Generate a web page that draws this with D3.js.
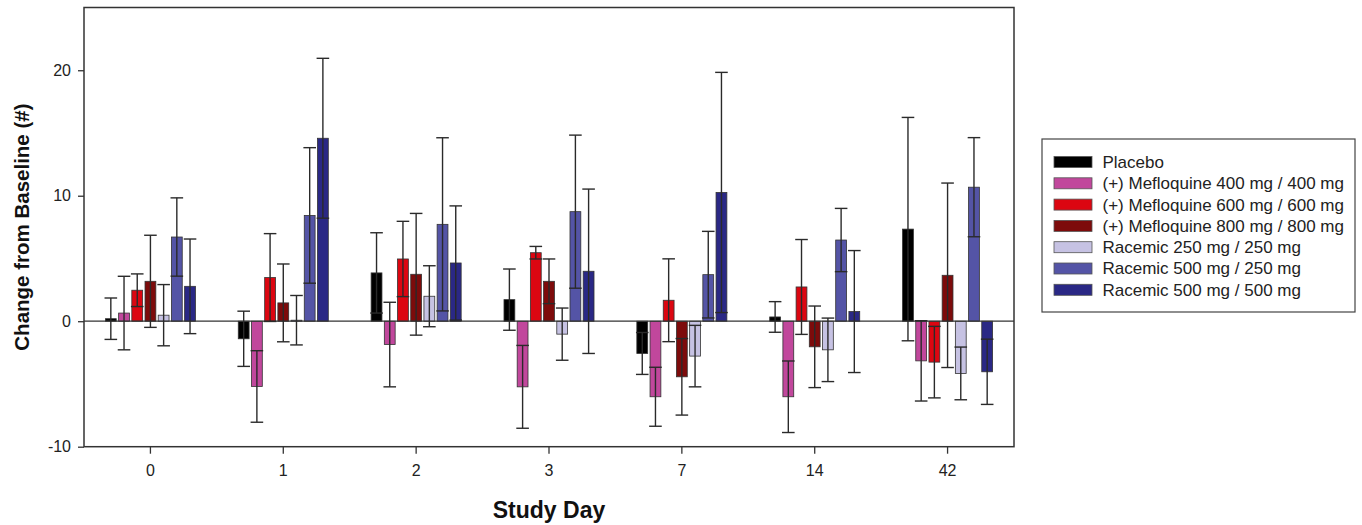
<!DOCTYPE html>
<meta charset="utf-8">
<head>
  <style>
    body { margin: 0; background: #fff; }
    svg { display: block; font-family: Arial, "Liberation Sans", sans-serif; }
    .tick text { font-size: 16px; fill: #222; }
    .axis path, .axis line { stroke: #333; }
    .legend text { font-size: 17px; fill: #222; }
  </style>
  <script src="https://cdn.jsdelivr.net/npm/d3@7"></script>
</head>
<body>
  <svg width="1362" height="525"></svg>
  <script>

    // study days on the x axis
    var days = ["0", "1", "2", "3", "7", "14", "42"];

    var groups = [
      "Placebo",
      "(+) Mefloquine 400 mg / 400 mg",
      "(+) Mefloquine 600 mg / 600 mg",
      "(+) Mefloquine 800 mg / 800 mg",
      "Racemic 250 mg / 250 mg",
      "Racemic 500 mg / 250 mg",
      "Racemic 500 mg / 500 mg"
    ];
    var colors = ["#000000", "#c1479c", "#dc0611", "#7d0b0b", "#c6c2e3", "#5454a6", "#2a2885"];

    // mean change per group, one value per day
    var placebo   = [0.2, -1.4, 3.85, 1.72, -2.57, 0.34, 7.34];
    var meflo400  = [0.65, -5.2, -1.86, -5.23, -6.02, -6.02, -3.16];
    var meflo600  = [2.47, 3.48, 4.96, 5.46, 1.67, 2.73, -3.26];
    var meflo800  = [3.18, 1.46, 3.74, 3.18, -4.43, -2.04, 3.66];
    var rac250    = [0.48, 0.08, 1.99, -1.03, -2.78, -2.28, -4.16];
    var rac500250 = [6.71, 8.43, 7.72, 8.73, 3.71, 6.47, 10.68];
    var rac500500 = [2.78, 14.58, 4.64, 3.98, 10.26, 0.77, -4.03];

    // error (+/-) per group, one value per day
    var placeboErr   = [1.65, 2.2, 3.2, 2.44, 1.67, 1.22, 8.9];
    var meflo400Err  = [2.93, 2.85, 3.37, 3.3, 2.35, 2.85, 3.2];
    var meflo600Err  = [1.3, 3.5, 3.0, 0.5, 3.3, 3.78, 2.85];
    var meflo800Err  = [3.67, 3.1, 4.85, 1.78, 3.05, 3.25, 7.35];
    var rac250Err    = [2.44, 1.97, 2.43, 2.08, 2.45, 2.53, 2.1];
    var rac500250Err = [3.12, 5.4, 6.9, 6.1, 3.45, 2.52, 3.95];
    var rac500500Err = [3.77, 6.37, 4.55, 6.55, 9.57, 4.86, 2.6];

    var yTicks = [-10, 0, 10, 20];

    var means = [placebo, meflo400, meflo600, meflo800, rac250, rac500250, rac500500];
    var errs = [placeboErr, meflo400Err, meflo600Err, meflo800Err, rac250Err, rac500250Err, rac500500Err];

    var rows = [];
    days.forEach(function(day, i) {
      groups.forEach(function(g, j) {
        rows.push({day: day, group: g, value: means[j][i], err: errs[j][i], color: colors[j]});
      });
    });

    var svg = d3.select("svg");
    var plotL = 84, plotR = 1014, plotT = 7.5, plotB = 446.7;

    var x0 = d3.scaleBand()
      .domain(days)
      .range([plotL, plotR]);

    var groupW = 92.4;
    var x1 = d3.scaleBand()
      .domain(groups)
      .range([-groupW / 2, groupW / 2])
      .paddingInner(0.18)
      .paddingOuter(0.09);

    var y = d3.scaleLinear()
      .domain([-10, 25])
      .range([plotB, plotT]);

    // axes
    svg.append("g")
      .attr("class", "axis")
      .attr("transform", "translate(" + plotL + ",0)")
      .call(d3.axisLeft(y).tickValues(yTicks).tickFormat(String).tickSize(6).tickPadding(7))
      .call(function(g) { g.select(".domain").remove(); });

    svg.append("g")
      .attr("class", "axis")
      .attr("transform", "translate(0," + plotB + ")")
      .call(d3.axisBottom(x0).tickSize(7).tickPadding(11))
      .call(function(g) { g.select(".domain").remove(); });

    svg.selectAll(".axis line").style("stroke-width", 1.3);

    // bars
    var bars = svg.append("g");
    bars.selectAll("rect")
      .data(rows)
      .enter().append("rect")
      .attr("x", function(d) { return x0(d.day) + x0.bandwidth() / 2 + x1(d.group); })
      .attr("y", function(d) { return y(Math.max(0, d.value)); })
      .attr("width", x1.bandwidth())
      .attr("height", function(d) { return Math.abs(y(d.value) - y(0)); })
      .style("fill", function(d) { return d.color; })
      .style("stroke", "#333")
      .style("stroke-width", 0.8);

    // zero line
    svg.append("line")
      .attr("x1", plotL).attr("x2", plotR)
      .attr("y1", y(0)).attr("y2", y(0))
      .style("stroke", "#333")
      .style("stroke-width", 1.3);

    // error bars
    var cap = 6.3;
    var eb = svg.append("g")
      .style("stroke", "#2a2a2a")
      .style("stroke-width", 1.4);
    var ebs = eb.selectAll("g")
      .data(rows)
      .enter().append("g")
      .attr("transform", function(d) {
        return "translate(" + (x0(d.day) + x0.bandwidth() / 2 + x1(d.group) + x1.bandwidth() / 2) + ",0)";
      });
    ebs.append("line")
      .attr("y1", function(d) { return y(d.value + d.err); })
      .attr("y2", function(d) { return y(d.value - d.err); });
    ebs.append("line")
      .attr("x1", -cap).attr("x2", cap)
      .attr("y1", function(d) { return y(d.value + d.err); })
      .attr("y2", function(d) { return y(d.value + d.err); });
    ebs.append("line")
      .attr("x1", -cap).attr("x2", cap)
      .attr("y1", function(d) { return y(d.value - d.err); })
      .attr("y2", function(d) { return y(d.value - d.err); });

    // frame
    svg.append("rect")
      .attr("x", plotL).attr("y", plotT)
      .attr("width", plotR - plotL).attr("height", plotB - plotT)
      .style("fill", "none")
      .style("stroke", "#333")
      .style("stroke-width", 1.5);

    // axis titles
    svg.append("text")
      .attr("transform", "translate(29," + ((plotT + plotB) / 2) + ") rotate(-90)")
      .attr("text-anchor", "middle")
      .attr("font-weight", "bold")
      .attr("font-size", "20.5px")
      .attr("fill", "#111")
      .text("Change from Baseline (#)");

    svg.append("text")
      .attr("x", (plotL + plotR) / 2)
      .attr("y", 518)
      .attr("text-anchor", "middle")
      .attr("font-weight", "bold")
      .attr("font-size", "23px")
      .attr("fill", "#111")
      .text("Study Day");

    //legend
    var lg = svg.append("g").attr("class", "legend");
    lg.append("rect")
      .attr("x", 1042).attr("y", 139)
      .attr("width", 313).attr("height", 173)
      .style("fill", "#fff")
      .style("stroke", "#444")
      .style("stroke-width", 1.2);

    var items = lg.selectAll("g.item")
      .data(groups)
      .enter().append("g")
      .attr("class", "item")
      .attr("transform", function(d, i) { return "translate(1054," + (162 + i * 21.3) + ")"; });
    items.append("rect")
      .attr("x", 0).attr("y", -5.5)
      .attr("width", 38).attr("height", 11)
      .style("fill", function(d, i) { return colors[i]; })
      .style("stroke", "#555")
      .style("stroke-width", 0.8);
    items.append("text")
      .attr("x", 48.5)
      .attr("dy", "0.35em")
      .text(function(d) { return d; });

  </script>
</body>
